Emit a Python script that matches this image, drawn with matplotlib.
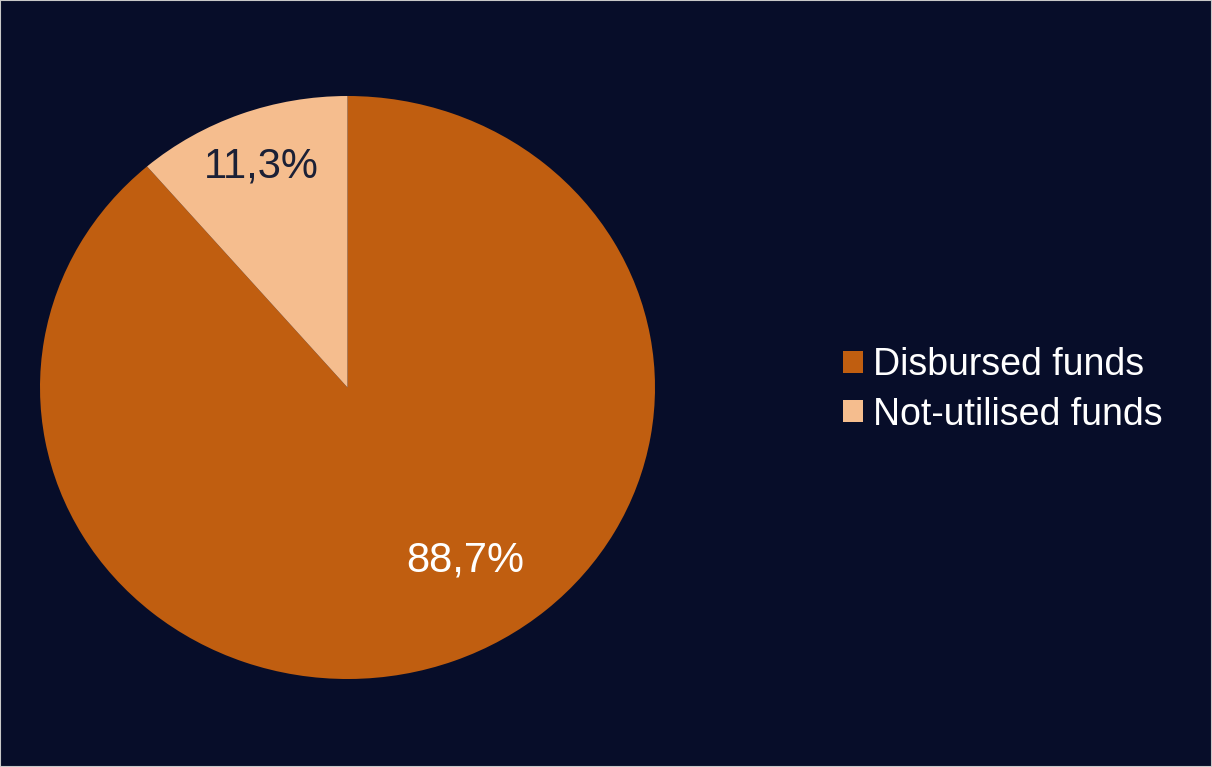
import matplotlib.pyplot as plt
from matplotlib.patches import Patch, Rectangle

plt.rcParams['font.family'] = ['Liberation Sans', 'DejaVu Sans']

labels = ['Disbursed funds', 'Not-utilised funds']
shares = [88.7, 11.3]
colors = ['#C05E10', '#F5BD8E']
pct_colors = ['#FFFFFF', '#1B2036']
bg = '#070D29'

W, H = 1212, 767
fig = plt.figure(figsize=(W / 100, H / 100), dpi=100, facecolor=bg)

# pie is drawn slightly wider than tall
ax = fig.add_axes([40 / W, (H - 679) / H, 615 / W, 583 / H])
ax.set_facecolor(bg)
wedges, texts, autotexts = ax.pie(
    shares, colors=colors, startangle=90, counterclock=False,
    autopct=lambda p: f'{p:.1f}%'.replace('.', ','), pctdistance=0.81,
    wedgeprops=dict(linewidth=0), textprops=dict(fontsize=30))
ax.set_aspect('auto')
ax.set_xlim(-1, 1)
ax.set_ylim(-1, 1)
for t, c in zip(autotexts, pct_colors):
    t.set_color(c)
# large slice label sits closer to the middle
autotexts[0].set_position((0.384, -0.593))

handles = [Patch(facecolor=c, edgecolor='none') for c in colors]
leg = fig.legend(handles, labels, loc='center left',
                 bbox_to_anchor=(843 / W, 1 - 390 / H), frameon=False,
                 fontsize=27, labelcolor='white', borderpad=0, borderaxespad=0,
                 handlelength=0.53, handleheight=0.53, handletextpad=0.28,
                 labelspacing=0.35)

fig.patches.append(Rectangle((0, 0), 1, 1, transform=fig.transFigure,
                             fill=False, edgecolor='#C8C8C8', linewidth=1.5))

fig.savefig('out.png', dpi=100, facecolor=bg)
plt.close()
